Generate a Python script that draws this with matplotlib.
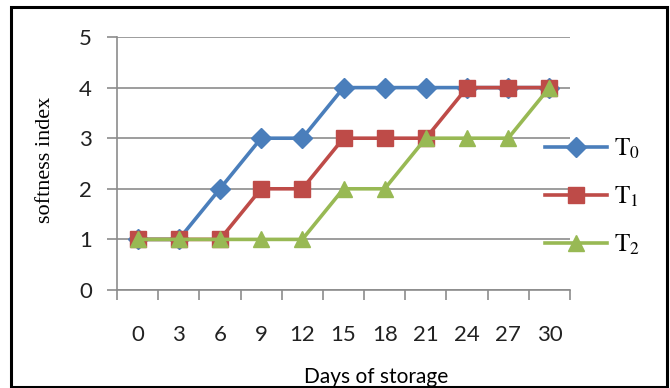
import matplotlib.pyplot as plt
from matplotlib.patches import Rectangle
import numpy as np

days = [0, 3, 6, 9, 12, 15, 18, 21, 24, 27, 30]
t0 = [1, 1, 2, 3, 3, 4, 4, 4, 4, 4, 4]
t1 = [1, 1, 1, 2, 2, 3, 3, 3, 4, 4, 4]
t2 = [1, 1, 1, 1, 1, 2, 2, 3, 3, 3, 4]
labels = [r'$\mathrm{T}_0$', r'$\mathrm{T}_1$', r'$\mathrm{T}_2$']

plt.rcParams['mathtext.fontset'] = 'stix'
tick_font = 'Lato'
gray = '#8c8c8c'

fig = plt.figure(figsize=(6.7, 3.88), dpi=100)
ax = fig.add_axes([117/670, 1 - 290/388, (570 - 117)/670, (290 - 37)/388])

x = np.arange(len(days))
ax.plot(x, t0, color='#4a7ebb', lw=2.6, marker='D', ms=10, label=labels[0])
ax.plot(x, t1, color='#be4b48', lw=2.6, marker='s', ms=12, label=labels[1])
ax.plot(x, t2, color='#98b954', lw=2.6, marker='^', ms=12, label=labels[2])

ax.set_xlim(-0.5, len(days) - 0.5)
ax.set_ylim(0, 5)
ax.set_yticks(range(6))
ax.yaxis.grid(True, color=gray, lw=1.2)
ax.set_axisbelow(True)

# category axis: ticks at the boundaries, labels in the middle
ax.set_xticks(np.arange(-0.5, len(days), 1))
ax.set_xticklabels([])
ax.set_xticks(x, minor=True)
ax.set_xticklabels([str(d) for d in days], minor=True)
ax.tick_params(axis='x', which='major', direction='out', length=7, color=gray, width=1.2)
ax.tick_params(axis='x', which='minor', length=0, pad=25, labelsize=16)
ax.tick_params(axis='y', direction='out', length=7, color=gray, width=1.2, labelsize=16, pad=11)
for lab in ax.get_xticklabels(minor=True) + ax.get_yticklabels():
    lab.set_fontfamily(tick_font)
    lab.set_color('#222222')

for s in ['top', 'right']:
    ax.spines[s].set_visible(False)
for s in ['left', 'bottom']:
    ax.spines[s].set_color(gray)
    ax.spines[s].set_linewidth(1.2)

fig.text(45/670, 1 - 160/388, 'softness index', rotation=90, ha='center', va='center',
         fontsize=16, family='Liberation Serif')
fig.text(376/670, 1 - 377/388, 'Days of storage', ha='center', va='center',
         fontsize=15, family=tick_font)

leg = fig.legend(loc='upper left', bbox_to_anchor=(522/670, 1 - 114/388), frameon=False,
                 fontsize=18, handlelength=2.5, labelspacing=0.95, handletextpad=0.3)

fig.patches.append(Rectangle((11/670, 0.002), (667 - 11)/670, 1 - 7/388 - 0.002,
                             transform=fig.transFigure, fill=False, ec='black', lw=2.2))

fig.savefig('out.png', dpi=100)
